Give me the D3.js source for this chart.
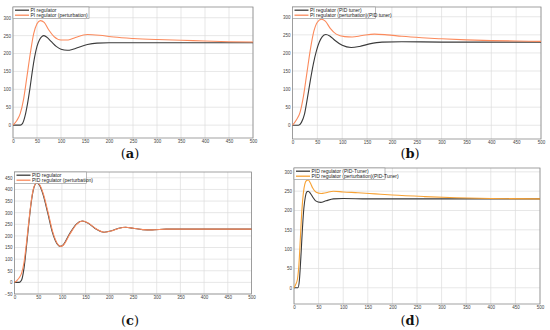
<!DOCTYPE html>
<html>
<head>
<meta charset="utf-8">
<script src="https://cdn.jsdelivr.net/npm/d3@7"></script>
<style>
  body { margin: 0; background: #fff; }
  svg { display: block; }
  .tick text { font-family: "Liberation Sans", Arial, sans-serif; font-size: 4.5px; fill: #444; }
  .legend text { font-family: "Liberation Sans", Arial, sans-serif; font-size: 5px; fill: #222; }
  .caption { font-family: "DejaVu Serif", "Liberation Serif", serif; font-size: 13px; fill: #111; }
</style>
</head>
<body>
<div id="vis"></div>
<script>
// Grösse
var width = 550;
var height = 330;

// x Ticks (Zeit) für alle Panels
var xTicks = [0, 50, 100, 150, 200, 250, 300, 350, 400, 450, 500];

// (a) PI regulator
var aT1 = [0, 15, 20, 25, 30, 35, 40, 45, 50, 55, 60, 64, 70, 80, 90, 100, 113, 125, 140, 155, 175, 200, 250, 300, 400, 500];
var aV1 = [0, 0, 5, 25, 58, 100, 148, 190, 220, 238, 247, 250, 246, 233, 220, 212, 209, 212, 219, 225, 229, 230, 230, 230, 230, 230];
var aT2 = [0, 8, 15, 22, 29, 36, 43, 50, 57, 65, 75, 85, 100, 115, 130, 155, 180, 210, 250, 300, 350, 400, 450, 500];
var aV2 = [0, 13, 32, 72, 135, 200, 255, 283, 292, 287, 265, 248, 238, 238, 245, 253, 251, 246, 242, 239, 237, 235, 233, 232];

// (b) PI regulator (PID tuner)
var bT1 = [0, 12, 18, 24, 30, 36, 42, 48, 54, 60, 67, 75, 85, 100, 118, 135, 155, 180, 220, 300, 400, 500];
var bV1 = [0, 0, 8, 30, 75, 125, 170, 205, 230, 245, 251, 247, 235, 221, 215, 218, 225, 230, 231, 230, 230, 230];
var bT2 = [0, 8, 15, 22, 29, 36, 43, 50, 58, 66, 76, 88, 105, 120, 140, 165, 190, 220, 260, 300, 350, 400, 450, 500];
var bV2 = [0, 15, 35, 80, 145, 210, 260, 285, 293, 288, 268, 252, 245, 244, 248, 252, 250, 246, 242, 239, 236, 234, 233, 232];

// (c) PID regulator
var cT1 = [0, 10, 15, 20, 25, 30, 35, 40, 45, 48, 52, 60, 70, 80, 90, 96, 102, 115, 130, 143, 155, 170, 189, 205, 220, 234, 250, 270, 290, 320, 400, 500];
var cV1 = [0, 0, 10, 60, 150, 250, 340, 400, 425, 427, 420, 380, 300, 215, 165, 155, 160, 205, 250, 264, 255, 232, 216, 222, 233, 237, 233, 227, 226, 229, 229, 229];
var cT2 = [0, 5, 10, 15, 20, 25, 30, 35, 40, 45, 49, 53, 61, 71, 81, 91, 97, 103, 116, 131, 144, 156, 171, 190, 206, 221, 235, 251, 271, 291, 320, 400, 500];
var cV2 = [0, 8, 20, 40, 85, 165, 258, 345, 403, 425, 427, 420, 380, 300, 215, 165, 155, 160, 205, 250, 264, 255, 232, 216, 222, 233, 237, 233, 227, 226, 229, 229, 229];

// (d) PID regulator (PID-Tuner)
var dT1 = [0, 8, 11, 14, 17, 20, 23, 26, 29, 33, 38, 44, 54, 65, 80, 100, 150, 500];
var dV1 = [0, 0, 20, 80, 150, 205, 235, 248, 250, 245, 235, 225, 221, 225, 230, 231, 230, 230];
var dT2 = [0, 4, 7, 10, 13, 16, 19, 22, 25, 29, 33, 38, 45, 55, 65, 80, 100, 130, 165, 200, 265, 330, 400, 500];
var dV2 = [0, 10, 22, 60, 130, 200, 245, 268, 277, 279, 272, 258, 247, 244, 246, 250, 248, 246, 243, 240, 236, 233, 231, 230];

// Legenden und Beschriftungen
var aNames = ['PI regulator', 'PI regulator (perturbation)'];
var bNames = ['PI regulator (PID tuner)', 'PI regulator (perturbation)(PID tuner)'];
var cNames = ['PID regulator', 'PID regulator (perturbation)'];
var dNames = ['PID regulator (PID-Tuner)', 'PID regulator (perturbation)(PID-Tuner)'];
var captions = ['a', 'b', 'c', 'd'];

function zip(ts, vs) {
    return ts.map(function (t, i) { return {t: t, v: vs[i]}; });
}

// Panels: Position und y-Bereich
var panels = [
    {box: [13, 253, 7, 138], y: [-36, 330], yTicks: d3.range(0, 301, 50), s1: zip(aT1, aV1), s2: zip(aT2, aV2), names: aNames, c2: '#fb8a5c', legW: 76, cap: [130, 158]},
    {box: [292.5, 541, 7, 139], y: [-38, 327], yTicks: d3.range(0, 301, 50), s1: zip(bT1, bV1), s2: zip(bT2, bV2), names: bNames, c2: '#fb8a5c', legW: 83, cap: [410, 158]},
    {box: [14.5, 251.5, 172, 294], y: [-50, 475], yTicks: d3.range(-50, 451, 50), s1: zip(cT1, cV1), s2: zip(cT2, cV2), names: cNames, c2: '#fb8a5c', legW: 72, cap: [130, 325]},
    {box: [294, 540, 168, 304], y: [-42, 310], yTicks: d3.range(0, 301, 50), s1: zip(dT1, dV1), s2: zip(dT2, dV2), names: dNames, c2: '#f7a235', legW: 91, cap: [410, 325]}
];

var svg = d3.select('#vis').append('svg')
    .attr('width', width)
    .attr('height', height);

panels.forEach(function (p, i) {
    var x = d3.scaleLinear().domain([0, 500]).range([p.box[0], p.box[1]]);
    var y = d3.scaleLinear().domain(p.y).range([p.box[3], p.box[2]]);
    var g = svg.append('g');

    // Gitter
    g.selectAll('.vx').data(xTicks).enter().append('line')
        .attr('x1', function (d) { return x(d); }).attr('x2', function (d) { return x(d); })
        .attr('y1', p.box[2]).attr('y2', p.box[3])
        .attr('stroke', '#dcdcdc').attr('stroke-width', 0.7);
    g.selectAll('.hy').data(p.yTicks).enter().append('line')
        .attr('y1', function (d) { return y(d); }).attr('y2', function (d) { return y(d); })
        .attr('x1', p.box[0]).attr('x2', p.box[1])
        .attr('stroke', '#dcdcdc').attr('stroke-width', 0.7);

    // Achsen
    g.append('g').attr('transform', 'translate(0,' + p.box[3] + ')')
        .call(d3.axisBottom(x).tickValues(xTicks).tickSize(0).tickPadding(2))
        .call(function (s) { s.select('.domain').remove(); });
    g.append('g').attr('transform', 'translate(' + p.box[0] + ',0)')
        .call(d3.axisLeft(y).tickValues(p.yTicks).tickSize(0).tickPadding(2))
        .call(function (s) { s.select('.domain').remove(); });

    g.append('rect')
        .attr('x', p.box[0]).attr('y', p.box[2])
        .attr('width', p.box[1] - p.box[0]).attr('height', p.box[3] - p.box[2])
        .attr('fill', 'none').attr('stroke', '#8a8a8a').attr('stroke-width', 0.8);

    var line = d3.line()
        .x(function (d) { return x(d.t); })
        .y(function (d) { return y(d.v); })
        .curve(d3.curveMonotoneX);

    g.append('path').datum(p.s1).attr('d', line)
        .attr('fill', 'none').attr('stroke', '#3a3a3a').attr('stroke-width', 1.1);
    g.append('path').datum(p.s2).attr('d', line)
        .attr('fill', 'none').attr('stroke', p.c2).attr('stroke-width', 1.1);

    // Legende
    var leg = g.append('g').attr('class', 'legend')
        .attr('transform', 'translate(' + p.box[0] + ',' + p.box[2] + ')');
    leg.append('rect').attr('width', p.legW).attr('height', 11.5)
        .attr('fill', '#fff').attr('stroke', '#8a8a8a').attr('stroke-width', 0.6);
    [['#3a3a3a', p.names[0]], [p.c2, p.names[1]]].forEach(function (e, k) {
        var yy = 3.2 + k * 5;
        leg.append('line').attr('x1', 2).attr('x2', 16).attr('y1', yy).attr('y2', yy)
            .attr('stroke', e[0]).attr('stroke-width', 1.3);
        leg.append('text').attr('x', 17.5).attr('y', yy + 1.7).text(e[1]);
    });

    // Beschriftung (a) ... (d)
    var cap = svg.append('text').attr('class', 'caption')
        .attr('x', p.cap[0]).attr('y', p.cap[1]).attr('text-anchor', 'middle');
    cap.append('tspan').text('(');
    cap.append('tspan').attr('font-weight', 'bold').text(captions[i]);
    cap.append('tspan').text(')');
});
</script>
</body>
</html>
